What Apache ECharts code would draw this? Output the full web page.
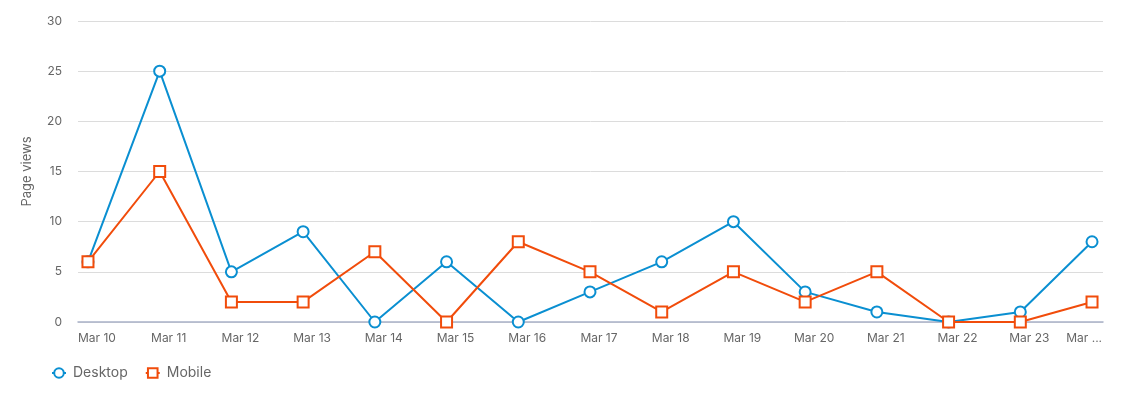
<!DOCTYPE html>
<html>
<head>
<meta charset="utf-8">
<script src="https://cdn.jsdelivr.net/npm/echarts@6/dist/echarts.min.js"></script>
<style>html,body{margin:0;padding:0;background:#fff}#c{width:1124px;height:395px}</style>
</head>
<body>
<div id="c"></div>
<script>
const categories = ["Mar 10","Mar 11","Mar 12","Mar 13","Mar 14","Mar 15","Mar 16","Mar 17","Mar 18","Mar 19","Mar 20","Mar 21","Mar 22","Mar 23","Mar 24"];
const desktop = [6,25,5,9,0,6,0,3,6,10,3,1,0,1,8];
const mobile  = [6,15,2,2,7,0,8,5,1,5,2,5,0,0,2];
const yTicks = [0,5,10,15,20,25,30];

const chart = echarts.init(document.getElementById('c'));
const font = 'Inter, "Noto Sans", sans-serif';
const last = categories.length - 1;
// label anchor positions (labels sit slightly right of their points; last one is clipped)
const labelPos = categories.map((_, i) => i === last ? i - 0.11 : i + 0.125);
chart.setOption({
  animation: false,
  textStyle: { fontFamily: font },
  grid: { left: 78, right: 21, top: 21, bottom: 73, containLabel: false },
  legend: {
    left: 46, top: 361, itemGap: 17, itemWidth: 14, itemHeight: 12,
    textStyle: { color: '#666', fontSize: 14, fontFamily: font, padding: [0, 0, 0, 2] },
    data: ['Desktop', 'Mobile']
  },
  xAxis: {
    type: 'value', min: -0.139, max: 14.153,
    axisLine: { show: true, lineStyle: { color: '#a9b1c8', width: 1.5 } },
    axisTick: { show: false },
    splitLine: { show: false },
    axisLabel: {
      customValues: labelPos,
      color: '#666', fontSize: 12, margin: 10, fontFamily: font,
      formatter: v => {
        const i = Math.round(v);
        return i === last ? categories[i].slice(0, 3) + ' ...' : categories[i];
      }
    }
  },
  yAxis: {
    type: 'value', min: 0, max: 30, interval: 5,
    name: 'Page views', nameLocation: 'middle', nameGap: 44,
    nameTextStyle: { color: '#666', fontSize: 13, fontFamily: font },
    axisLine: { show: false }, axisTick: { show: false },
    axisLabel: { color: '#666', fontSize: 12, margin: 16, fontFamily: font,
      customValues: yTicks },
    splitLine: { lineStyle: { color: '#dcdcdc', width: 1 } }
  },
  series: [
    { name: 'Desktop', type: 'line', data: desktop.map((v, i) => [i, v]),
      symbol: 'emptyCircle', symbolSize: 11, color: '#0a8fd1',
      lineStyle: { width: 2, color: '#0a8fd1' }, itemStyle: { borderWidth: 2, borderColor: '#0a8fd1' } },
    { name: 'Mobile', type: 'line', data: mobile.map((v, i) => [i, v]),
      symbol: 'emptyRect', symbolSize: 11, color: '#f14c0b',
      lineStyle: { width: 2, color: '#f14c0b' }, itemStyle: { borderColor: '#f14c0b', borderWidth: 2 } }
  ]
});
</script>
</body>
</html>
